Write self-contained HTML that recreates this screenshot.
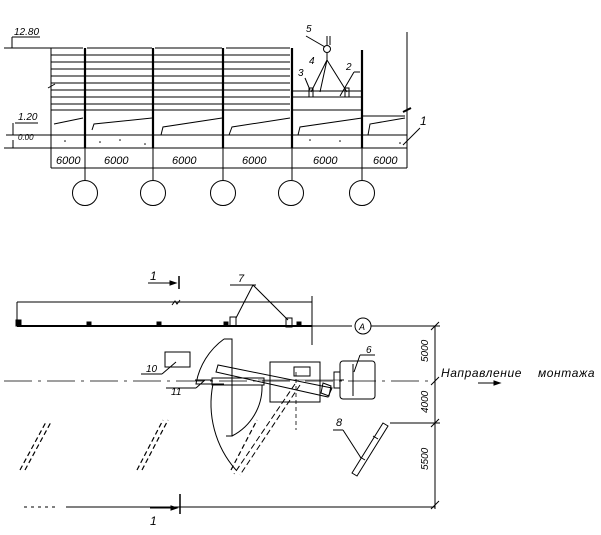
<!DOCTYPE html>
<html><head><meta charset="utf-8"><style>
html,body{margin:0;padding:0;background:#fff;}
svg{display:block}
text{font-family:"Liberation Sans",sans-serif;font-style:italic;fill:#000}
</style></head><body>
<svg width="601" height="535" viewBox="0 0 601 535" xmlns="http://www.w3.org/2000/svg" stroke="#000" fill="none" stroke-width="1">
<text x="14" y="35" font-size="10" stroke="none">12.80</text>
<line x1="12" y1="37" x2="40" y2="37"/>
<line x1="12" y1="37" x2="12" y2="48"/>
<line x1="4" y1="48" x2="51" y2="48"/>
<g stroke-width="1">
<line x1="51" y1="48" x2="51" y2="168"/>
<line x1="51" y1="48" x2="83" y2="48"/>
<line x1="87" y1="48" x2="152" y2="48"/>
<line x1="155" y1="48" x2="222" y2="48"/>
<line x1="226" y1="48" x2="290" y2="48"/>
</g>
<g stroke-width="0.9">
<path d="M51 55H290M51 62H290M51 69H290M51 76H290M51 83H290M51 90H290M51 97H290M51 104H290M51 110H290"/>
<path d="M292 91H362M292 97H362M292 110H362"/>
<path d="M362 116H405"/>
</g>
<g stroke-width="2.2">
<line x1="85" y1="48" x2="85" y2="148"/>
<line x1="153" y1="48" x2="153" y2="148"/>
<line x1="223" y1="48" x2="223" y2="148"/>
<line x1="292" y1="48" x2="292" y2="148"/>
<line x1="362" y1="50" x2="362" y2="148"/>
</g>
<path d="M54 124L83 118M92 130L94 124L152 118M161 135L163 127L222 118M229 135L232 127L290 118M298 135L300 127L362 118M368 135L370 124L405 118"/>
<line x1="51" y1="135" x2="407" y2="135"/>
<line x1="51" y1="148" x2="407" y2="148"/>
<line x1="407" y1="32" x2="407" y2="168"/>
<path d="M403 112L411 108" stroke-width="2"/>
<g fill="#000" stroke="none">
<circle cx="65" cy="141" r="0.8"/><circle cx="100" cy="142" r="0.8"/><circle cx="120" cy="140" r="0.8"/><circle cx="145" cy="144" r="0.8"/><circle cx="310" cy="140" r="0.8"/><circle cx="340" cy="141" r="0.8"/><circle cx="400" cy="143" r="0.8"/>
</g>
<text x="18" y="120" font-size="10" stroke="none">1.20</text>
<line x1="15" y1="123" x2="38" y2="123"/>
<line x1="13" y1="123" x2="13" y2="135"/>
<line x1="6" y1="135" x2="51" y2="135"/>
<text x="18" y="140" font-size="8" stroke="none">0.00</text>
<line x1="13" y1="140" x2="13" y2="148"/>
<line x1="4" y1="148" x2="51" y2="148"/>
<line x1="51" y1="168" x2="407" y2="168"/>
<g font-size="11" stroke="none">
<text x="56" y="164">6000</text><text x="104" y="164">6000</text><text x="172" y="164">6000</text><text x="242" y="164">6000</text><text x="313" y="164">6000</text><text x="373" y="164">6000</text>
</g>
<path d="M85 148V180M153 148V180M223 148V180M292 148V180M362 148V180"/>
<circle cx="85" cy="193" r="12.5"/><circle cx="153" cy="193" r="12.5"/><circle cx="223" cy="193" r="12.5"/><circle cx="291" cy="193" r="12.5"/><circle cx="362" cy="193" r="12.5"/>
<line x1="403" y1="145" x2="420" y2="128"/>
<text x="420" y="125" font-size="12" stroke="none">1</text>
<line x1="48" y1="88" x2="55" y2="84"/>
<circle cx="327" cy="49" r="3.5"/>
<line x1="327" y1="36" x2="327" y2="45"/><line x1="330" y1="36" x2="330" y2="45"/>
<line x1="327" y1="53" x2="327" y2="60"/>
<path d="M327 60L311 92M327 60L347 92M327 60L320 92"/>
<rect x="309" y="88" width="4" height="9"/><rect x="345" y="88" width="4" height="9"/>
<line x1="306" y1="36" x2="325" y2="47"/>
<text x="306" y="32" font-size="10" stroke="none">5</text>
<text x="309" y="64" font-size="10" stroke="none">4</text>
<text x="298" y="76" font-size="10" stroke="none">3</text>
<line x1="305" y1="78" x2="310" y2="90"/>
<text x="346" y="70" font-size="10" stroke="none">2</text>
<line x1="340" y1="96" x2="354" y2="72"/><line x1="354" y1="72" x2="360" y2="72"/>

<text x="150" y="280" font-size="12" stroke="none">1</text>
<line x1="148" y1="283" x2="176" y2="283"/><path d="M176 283l-6 -2v4z" fill="#000"/>
<line x1="179" y1="276" x2="179" y2="289" stroke-width="1.5"/>
<text x="238" y="282" font-size="11" stroke="none" font-style="normal">7</text>
<line x1="230" y1="285" x2="256" y2="285"/>
<path d="M253 285L236 318M253 285L288 320"/>
<line x1="17" y1="302" x2="312" y2="302"/>
<path d="M172 305l3 -4l2 3l3 -4"/>
<line x1="17" y1="302" x2="17" y2="325"/>
<line x1="312" y1="296" x2="312" y2="345"/>
<rect x="230" y="317" width="6" height="9"/><rect x="286" y="318" width="6" height="9"/>
<line x1="17" y1="326" x2="312" y2="326" stroke-width="2"/>
<path d="M16 320h5v6h-5zM87 322h4v4h-4zM157 322h4v4h-4zM224 322h4v4h-4zM297 322h4v4h-4z" fill="#000"/>
<line x1="312" y1="326" x2="352" y2="326"/>
<circle cx="363" cy="326" r="8"/>
<text x="359" y="330" font-size="9" stroke="none">A</text>
<line x1="371" y1="326" x2="440" y2="326"/>
<line x1="435" y1="326" x2="435" y2="509"/>
<path d="M431 330l8 -8M431 385l8 -8M431 427l8 -8M431 509l8 -8"/>
<line x1="390" y1="423" x2="440" y2="423"/>
<g font-size="10" stroke="none">
<text transform="translate(428,362) rotate(-90)">5000</text>
<text transform="translate(428,413) rotate(-90)">4000</text>
<text transform="translate(428,470) rotate(-90)">5500</text>
</g>
<line x1="4" y1="381" x2="430" y2="381" stroke-dasharray="28 6 3 6" stroke-width="0.8"/>
<text x="441" y="377" font-size="12" stroke="none" letter-spacing="0.6" word-spacing="12">Направление монтажа</text>
<line x1="478" y1="383" x2="500" y2="383"/><path d="M500 383l-6 -2v4z" fill="#000"/>
<rect x="165" y="352" width="25" height="15"/>
<line x1="141" y1="374" x2="162" y2="374"/><line x1="162" y1="374" x2="176" y2="362"/>
<text x="146" y="372" font-size="10" stroke="none">10</text>
<path d="M224 339 A70 70 0 0 0 196 384 L224 384"/>
<path d="M224 339 L232 339 L232 436 L226 436"/>
<path d="M232 436 A55 55 0 0 0 262 385"/>
<path d="M213 384 A100 100 0 0 0 236 470"/>
<rect x="212" y="378" width="52" height="7"/>
<line x1="195" y1="380" x2="212" y2="380"/>
<path d="M216 372L218 365L332 388L328 397Z"/>
<path d="M323 383l8 3l-2 10l-8 -3z"/>
<line x1="166" y1="388" x2="196" y2="388"/><line x1="196" y1="388" x2="205" y2="380"/>
<text x="171" y="395" font-size="10" stroke="none">11</text>
<rect x="270" y="362" width="50" height="40"/>
<rect x="294" y="367" width="16" height="9"/>
<line x1="296" y1="372" x2="296" y2="430" stroke-dasharray="4 3" stroke-width="0.8"/>
<line x1="258" y1="380" x2="340" y2="380" stroke-width="0.6"/>
<rect x="334" y="372" width="6" height="16"/>
<rect x="340" y="361" width="35" height="38" rx="3"/>
<path d="M353 364v32M340 380h4"/>
<text x="366" y="353" font-size="10" stroke="none">6</text>
<line x1="360" y1="355" x2="375" y2="355"/><line x1="360" y1="355" x2="354" y2="372"/>
<path d="M300 385L240 475" stroke-dasharray="6 3"/>
<path d="M295 384L234 474" stroke-dasharray="6 3"/>
<g stroke-dasharray="5 3" stroke-width="1.2">
<path d="M20 470L46 422M25 470L51 422"/>
<path d="M137 470L163 420M142 470L168 420"/>
<path d="M231 470L257 420"/>
</g>
<path d="M352 473L383 423L388 426L357 476Z"/>
<path d="M360 457l5 3M373 436l5 3"/>
<line x1="333" y1="430" x2="343" y2="430"/><line x1="343" y1="430" x2="361" y2="458"/>
<text x="336" y="426" font-size="11" stroke="none">8</text>
<line x1="24" y1="507" x2="56" y2="507" stroke-dasharray="3 4"/>
<line x1="66" y1="507" x2="435" y2="507" stroke-width="0.9"/>
<line x1="180" y1="494" x2="180" y2="514" stroke-width="1.5"/>
<line x1="150" y1="508" x2="176" y2="508"/><path d="M177 508l-6 -2v4z" fill="#000"/>
<text x="150" y="525" font-size="12" stroke="none">1</text>
</svg>
</body></html>
